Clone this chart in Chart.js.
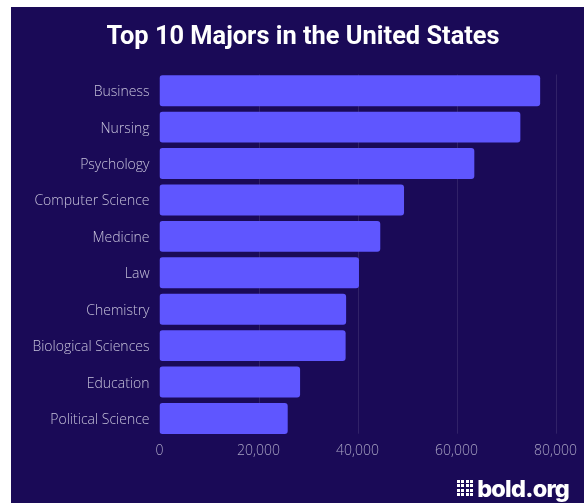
<!DOCTYPE html>
<html>
<head>
<meta charset="utf-8">
<script src="https://cdn.jsdelivr.net/npm/chart.js@4"></script>
<style>
  html, body { margin: 0; background: #fff; }
  #frame { position: absolute; left: 0; top: 0; width: 584px; height: 503px; overflow: hidden; background: #fff; }
  #panel { position: absolute; left: 11px; top: 7px; width: 573px; height: 496px; background: #1a0a57; }
  #wrap { position: absolute; left: 11px; top: 7px; width: 584px; height: 496px; }
  #logo { position: absolute; left: 457px; top: 478px; display: flex; align-items: center; color: #fff;
    font: 800 23.5px/22px Inter, sans-serif; letter-spacing: -0.8px; }
  #dots { display: grid; grid-template-columns: repeat(4, 3px); grid-auto-rows: 3px; gap: 1.4px; margin: -2px 4px 0 0; }
  #dots i { background: #fff; display: block; }
</style>
</head>
<body>
<div id="frame">
  <div id="panel"></div>
  <div id="wrap"><canvas id="myChart" width="584" height="496"></canvas></div>
  <div id="logo"><div id="dots"><i></i><i></i><i></i><i></i><i></i><i></i><i></i><i></i><i></i><i></i><i></i><i></i><i></i><i></i><i></i><i></i></div>bold.org</div>
</div>
<script>
const majors = ['Business', 'Nursing', 'Psychology', 'Computer Science', 'Medicine', 'Law',
  'Chemistry', 'Biological Sciences', 'Education', 'Political Science'];
const graduates = [76900, 72900, 63600, 49400, 44600, 40300, 37700, 37600, 28400, 25900];
const xTicks = [0, 20000, 40000, 60000, 80000];

// vertical lines only run from the top of the first bar to the bottom of the last one
const shortGrid = {
  id: 'shortGrid',
  beforeDatasetsDraw(chart) {
    const { ctx } = chart;
    const x = chart.scales.x;
    const { top, bottom } = chart.chartArea;
    ctx.save();
    ctx.strokeStyle = 'rgba(255,255,255,0.1)';
    ctx.lineWidth = 1;
    xTicks.slice(1).forEach((t) => {
      const px = Math.round(x.getPixelForValue(t)) + 0.5;
      ctx.beginPath();
      ctx.moveTo(px, top + 2);
      ctx.lineTo(px, bottom - 3);
      ctx.stroke();
    });
    ctx.restore();
  },
};

const ctx = document.getElementById('myChart').getContext('2d');
new Chart(ctx, {
  type: 'bar',
  data: {
    labels: majors,
    datasets: [{
      data: graduates,
      backgroundColor: '#5f56ff',
      borderRadius: 3,
      borderSkipped: false,
      categoryPercentage: 0.85,
      barPercentage: 1,
    }],
  },
  plugins: [shortGrid],
  options: {
    indexAxis: 'y',
    responsive: false,
    animation: false,
    plugins: {
      legend: { display: false },
      tooltip: { enabled: false },
      title: {
        display: true,
        text: 'Top 10 Majors in the United States',
        color: '#ffffff',
        font: { family: 'Roboto', size: 25.4, weight: '700' },
        padding: { top: 15.4, bottom: 19.6 },
      },
    },
    scales: {
      x: {
        min: 0,
        max: 80000,
        afterBuildTicks: (scale) => { scale.ticks = xTicks.map((value) => ({ value })); },
        afterFit: (scale) => { scale.height = 66.3; },
        grid: { display: false },
        border: { display: false },
        ticks: {
          color: '#a9a4c4',
          padding: -2,
          maxRotation: 0,
          autoSkip: false,
          font: { family: 'Open Sans', size: 14, weight: '300' },
          callback: (v) => v.toLocaleString('en-US'),
        },
      },
      y: {
        afterFit: (scale) => { scale.width = 148.5; },
        grid: { display: false },
        border: { display: false },
        ticks: {
          color: '#c6c2da',
          padding: 2,
          labelOffset: 1.5,
          autoSkip: false,
          font: { family: 'Open Sans', size: 14, weight: '300' },
        },
      },
      // empty axis, only reserves the space right of the plot
      spacer: {
        type: 'linear',
        axis: 'y',
        position: 'right',
        afterFit: (scale) => { scale.width = 39.5; },
        grid: { display: false },
        border: { display: false },
        ticks: { display: false },
      },
    },
  },
});
</script>
</body>
</html>
